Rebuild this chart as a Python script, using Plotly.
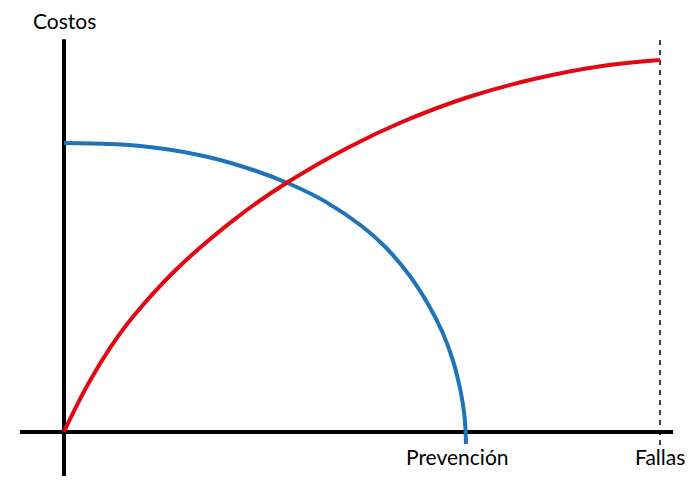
import plotly.graph_objects as go

# Costs curves (arbitrary units: x = effort, 100 = "Fallas"; y = cost, 100 = max failure cost)
prev_x = [0, 8, 16, 24, 32, 38, 44, 50, 54, 58, 61, 63.5, 65.3, 66.5, 67.2, 67.45]
prev_y = [77.7, 77.4, 76.3, 74.0, 70.3, 66.6, 61.8, 55.3, 49.6, 42.0, 34.6, 26.8, 19.0, 11.3, 4.3, -3.2]

fall_x = [0, 0.84, 4.14, 7.90, 11.61, 18.96, 28.94, 37.58, 47.87, 56.71, 67.87, 79.04, 90.30, 100]
fall_y = [0, 2.93, 13.20, 23.01, 31.05, 43.90, 57.58, 67.20, 76.64, 83.33, 90.05, 94.95, 98.39, 100]

labels = ["Costos", "Prevención", "Fallas"]

RED = "#E30613"
BLUE = "#1F73B8"
FONT = "Lato"

fig = go.Figure()
fig.add_trace(go.Scatter(x=prev_x, y=prev_y, mode="lines",
                         line=dict(color=BLUE, width=4, shape="spline", smoothing=1.0),
                         hoverinfo="skip", showlegend=False))
fig.add_trace(go.Scatter(x=fall_x, y=fall_y, mode="lines",
                         line=dict(color=RED, width=4, shape="spline", smoothing=1.0),
                         hoverinfo="skip", showlegend=False))

# axes drawn as shapes
shapes = [
    dict(type="line", x0=-7.4, x1=102.2, y0=0, y1=0, line=dict(color="black", width=4), layer="below"),
    dict(type="line", x0=0, x1=0, y0=-11.8, y1=105.6, line=dict(color="black", width=4), layer="below"),
    dict(type="line", x0=100, x1=100, y0=-3.5, y1=105.6, line=dict(color="black", width=1.5, dash="5px,5px"), layer="below"),
]

annotations = [
    dict(x=0, y=110.6, text=labels[0], showarrow=False, xanchor="center", yanchor="middle",
         font=dict(family=FONT, size=21, color="black")),
    dict(x=66.0, y=-6.6, text=labels[1], showarrow=False, xanchor="center", yanchor="middle",
         font=dict(family=FONT, size=21, color="black")),
    dict(x=100, y=-6.6, text=labels[2], showarrow=False, xanchor="center", yanchor="middle",
         font=dict(family=FONT, size=21, color="black")),
]

fig.update_layout(
    width=700, height=490,
    margin=dict(l=0, r=0, t=0, b=0),
    paper_bgcolor="white", plot_bgcolor="white",
    xaxis=dict(range=[-10.738, 106.711], visible=False, fixedrange=True),
    yaxis=dict(range=[-15.59, 116.13], visible=False, fixedrange=True),
    shapes=shapes, annotations=annotations,
)

fig.write_html("out.html")
